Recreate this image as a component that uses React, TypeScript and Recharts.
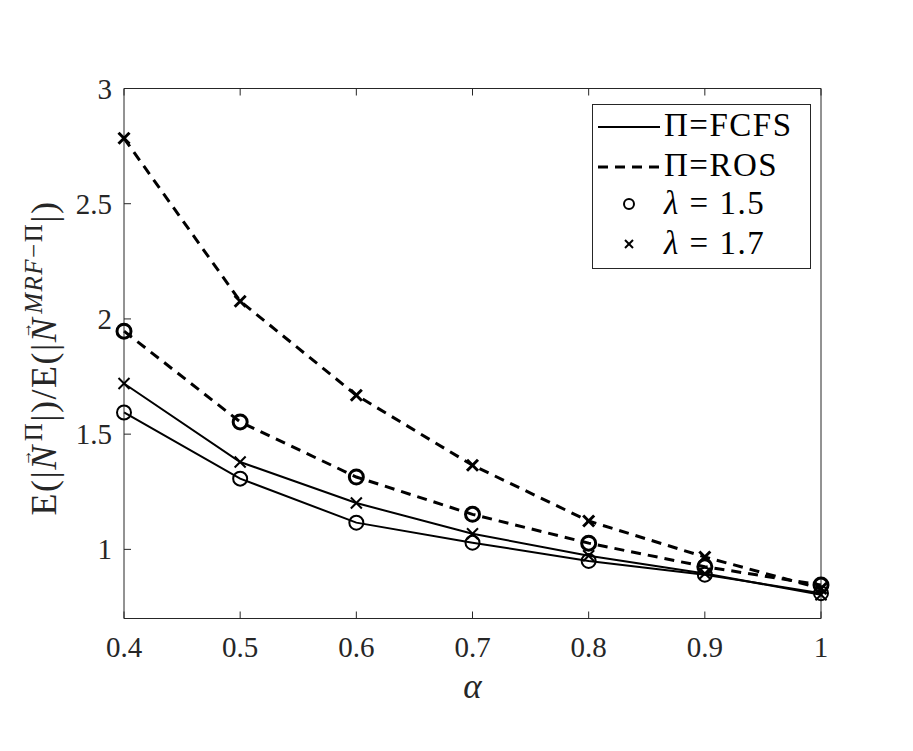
import React from 'react';
import { ComposedChart, Line, XAxis, YAxis, Legend, Label } from 'recharts';

const alphaValues = [0.4, 0.5, 0.6, 0.7, 0.8, 0.9, 1.0];
const fcfsLambda15 = [1.594, 1.307, 1.116, 1.029, 0.95, 0.89, 0.81];
const fcfsLambda17 = [1.72, 1.379, 1.201, 1.068, 0.972, 0.895, 0.803];
const rosLambda15 = [1.947, 1.553, 1.314, 1.152, 1.027, 0.925, 0.845];
const rosLambda17 = [2.784, 2.077, 1.669, 1.365, 1.123, 0.967, 0.83];
const xTickLabels = ['0.4', '0.5', '0.6', '0.7', '0.8', '0.9', '1'];
const yTickValues = [1, 1.5, 2, 2.5, 3];
const yTickLabels = ['1', '1.5', '2', '2.5', '3'];

const data = alphaValues.map((a, i) => ({
  alpha: a,
  fcfs15: fcfsLambda15[i],
  fcfs17: fcfsLambda17[i],
  ros15: rosLambda15[i],
  ros17: rosLambda17[i],
}));

const AX = '#262626';
const FONT = "'Liberation Serif', 'DejaVu Serif', serif";
const TICK_LEN = 7;
const fontStyle = { fontFamily: FONT };

const makeCircle = (sw: number) => (props: any) => {
  const { cx, cy, index } = props;
  if (cx == null || cy == null) return <g key={index} />;
  return <circle key={index} cx={cx} cy={cy} r={7} fill="none" stroke="#000" strokeWidth={sw} />;
};
const makeCross = (sw: number) => (props: any) => {
  const { cx, cy, index } = props;
  if (cx == null || cy == null) return <g key={index} />;
  const s = 5.5;
  return (
    <g key={index} stroke="#000" strokeWidth={sw}>
      <line x1={cx - s} y1={cy - s} x2={cx + s} y2={cy + s} />
      <line x1={cx - s} y1={cy + s} x2={cx + s} y2={cy - s} />
    </g>
  );
};

const BottomTick = (props: any) => {
  const { x, y, index } = props;
  return (
    <g>
      <line x1={x} y1={y} x2={x} y2={y - TICK_LEN} stroke={AX} strokeWidth={1} />
      <text x={x} y={y + 38.5} textAnchor="middle" style={fontStyle} fontSize={29} fill={AX}>
        {xTickLabels[index]}
      </text>
    </g>
  );
};
const TopTick = (props: any) => {
  const { x, y } = props;
  return <line x1={x} y1={y} x2={x} y2={y + TICK_LEN} stroke={AX} strokeWidth={1} />;
};
const LeftTick = (props: any) => {
  const { x, y, index } = props;
  return (
    <g>
      <line x1={x} y1={y} x2={x + TICK_LEN} y2={y} stroke={AX} strokeWidth={1} />
      <text x={x - 12} y={y + 10} textAnchor="end" style={fontStyle} fontSize={29} fill={AX}>
        {yTickLabels[index]}
      </text>
    </g>
  );
};
const RightTick = (props: any) => {
  const { x, y } = props;
  return <line x1={x} y1={y} x2={x - TICK_LEN} y2={y} stroke={AX} strokeWidth={1} />;
};

const YLabel = () => {
  const cx = 48;
  const cy = 350;
  return (
    <text
      x={cx}
      y={cy}
      transform={`rotate(-90 ${cx} ${cy})`}
      textAnchor="middle"
      style={{ ...fontStyle, letterSpacing: 1.5 }}
      fontSize={36}
      fill={AX}
    >
      <tspan>E(|</tspan>
      <tspan fontStyle="italic">N</tspan>
      <tspan dx={-22} dy={-24} fontSize={20} textLength={18} lengthAdjust="spacingAndGlyphs">→</tspan>
      <tspan dx={7} dy={10} fontSize={25}>Π</tspan>
      <tspan dy={14}>|)/E(|</tspan>
      <tspan fontStyle="italic">N</tspan>
      <tspan dx={-22} dy={-24} fontSize={20} textLength={18} lengthAdjust="spacingAndGlyphs">→</tspan>
      <tspan dx={7} dy={10} fontSize={25} fontStyle="italic">MRF</tspan>
      <tspan fontSize={25}>−Π</tspan>
      <tspan dy={14}>|)</tspan>
    </text>
  );
};

const XLabel = () => (
  <text x={464.5} y={690} textAnchor="middle" style={fontStyle} fontSize={35} fontStyle="italic" fill={AX}>
    α
  </text>
);

const LegendBox = () => {
  const w = 219;
  const h = 165;
  return (
    <svg width={w} height={h} style={{ display: 'block' }}>
      <rect x={0.5} y={0.5} width={w - 1} height={h - 1} fill="#fff" stroke={AX} strokeWidth={1} />
      <line x1={6} y1={23} x2={68} y2={23} stroke="#000" strokeWidth={2} />
      <line x1={6} y1={63} x2={68} y2={63} stroke="#000" strokeWidth={3} strokeDasharray="10 7" />
      <circle cx={37} cy={100} r={5} fill="none" stroke="#000" strokeWidth={2} />
      <g stroke="#000" strokeWidth={2}>
        <line x1={33} y1={136} x2={41} y2={144} />
        <line x1={33} y1={144} x2={41} y2={136} />
      </g>
      <g style={{ ...fontStyle, letterSpacing: 1.5 }} fontSize={33} fill="#000">
        <text x={72} y={32}>Π=FCFS</text>
        <text x={72} y={72}>Π=ROS</text>
        <text x={72} y={110}>
          <tspan fontStyle="italic">λ</tspan> = 1.5
        </text>
        <text x={72} y={150}>
          <tspan fontStyle="italic">λ</tspan> = 1.7
        </text>
      </g>
    </svg>
  );
};

export default function App() {
  return (
    <div style={{ width: 897, height: 735, background: '#fff' }}>
      <ComposedChart
        width={897}
        height={735}
        data={data}
        margin={{ top: 70.5, right: 74, bottom: 64.5, left: 56 }}
        style={{ background: '#fff' }}
      >
        <XAxis
          dataKey="alpha"
          type="number"
          domain={[0.4, 1]}
          ticks={alphaValues}
          height={60}
          tickSize={0}
          tickMargin={0}
          tickLine={false}
          axisLine={{ stroke: AX, strokeWidth: 1 }}
          tick={<BottomTick />}
          interval={0}
        >
          <Label content={<XLabel />} />
        </XAxis>
        <XAxis
          xAxisId="top"
          orientation="top"
          dataKey="alpha"
          type="number"
          domain={[0.4, 1]}
          ticks={alphaValues}
          height={10}
          tickSize={0}
          tickMargin={0}
          tickLine={false}
          axisLine={{ stroke: AX, strokeWidth: 1 }}
          tick={<TopTick />}
          interval={0}
        />
        <YAxis
          type="number"
          domain={[0.7, 3]}
          ticks={yTickValues}
          width={60}
          tickSize={0}
          tickMargin={0}
          tickLine={false}
          axisLine={{ stroke: AX, strokeWidth: 1 }}
          tick={<LeftTick />}
          interval={0}
          allowDataOverflow
        >
          <Label content={<YLabel />} />
        </YAxis>
        <YAxis
          yAxisId="right"
          orientation="right"
          type="number"
          domain={[0.7, 3]}
          ticks={yTickValues}
          width={10}
          tickSize={0}
          tickMargin={0}
          tickLine={false}
          axisLine={{ stroke: AX, strokeWidth: 1 }}
          tick={<RightTick />}
          interval={0}
        />
        <Legend
          layout="vertical"
          align="center"
          verticalAlign="middle"
          content={<LegendBox />}
          wrapperStyle={{ position: 'absolute', left: 584, top: 96, width: 219, height: 165 }}
        />
        <Line dataKey="fcfs15" stroke="#000" strokeWidth={2} dot={makeCircle(2)} isAnimationActive={false} legendType="none" />
        <Line dataKey="fcfs17" stroke="#000" strokeWidth={2} dot={makeCross(2)} isAnimationActive={false} legendType="none" />
        <Line
          dataKey="ros15"
          stroke="#000"
          strokeWidth={3}
          strokeDasharray="10 7"
          dot={makeCircle(3)}
          isAnimationActive={false}
          legendType="none"
        />
        <Line
          dataKey="ros17"
          stroke="#000"
          strokeWidth={3}
          strokeDasharray="10 7"
          dot={makeCross(3)}
          isAnimationActive={false}
          legendType="none"
        />
      </ComposedChart>
    </div>
  );
}
